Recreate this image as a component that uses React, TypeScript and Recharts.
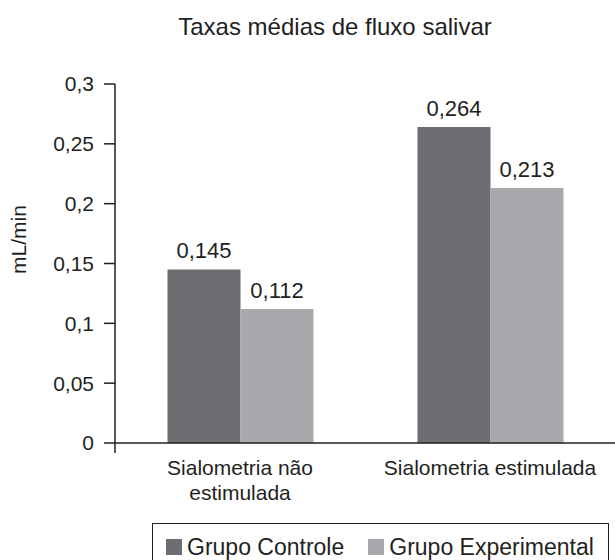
import React from 'react';
import { BarChart, Bar, XAxis, YAxis, LabelList, Legend } from 'recharts';

const categories = ['Sialometria não estimulada', 'Sialometria estimulada'];
const controle = [0.145, 0.264];
const experimental = [0.112, 0.213];
const yTicks = [0, 0.05, 0.1, 0.15, 0.2, 0.25, 0.3];
const boundaryTicks = [0, 1, 2];
const seriesNames = ['Grupo Controle', 'Grupo Experimental'];

const data = categories.map((c, i) => ({ name: c, controle: controle[i], experimental: experimental[i] }));

const FONT = '"Liberation Sans", Arial, Helvetica, sans-serif';
const INK = '#231f20';
const DARK = '#6d6e71';
const LIGHT = '#a7a9ac';
const MAX_CHARS = 23;

const fmt = (v: any) => String(v).replace('.', ',');

const wrap = (s: string) => {
  const words = s.split(' ');
  const lines: string[] = [];
  let cur = '';
  words.forEach((w) => {
    const next = cur ? cur + ' ' + w : w;
    if (next.length > MAX_CHARS && cur) {
      lines.push(cur);
      cur = w;
    } else {
      cur = next;
    }
  });
  if (cur) lines.push(cur);
  return lines;
};

const EmptyTick = () => <g />;

const XTick = (props: any) => {
  const { x, y, payload } = props;
  const lines = wrap(String(payload.value));
  return (
    <text x={x} y={y} textAnchor="middle" fill={INK} fontSize={21} fontFamily={FONT}>
      {lines.map((l, i) => (
        <tspan key={i} x={x} dy={i === 0 ? 31 : 25}>
          {l}
        </tspan>
      ))}
    </text>
  );
};

const YLabel = (props: any) => {
  const vb = props.viewBox || { x: 0, y: 0, width: 0, height: 0 };
  const cx = vb.x + 18;
  const cy = vb.y + vb.height / 2 - 24;
  return (
    <text
      x={cx}
      y={cy}
      transform={`rotate(-90 ${cx} ${cy})`}
      textAnchor="middle"
      dominantBaseline="central"
      fill={INK}
      fontSize={21}
      fontFamily={FONT}
    >
      mL/min
    </text>
  );
};

const LegendContent = (props: any) => {
  const payload = props.payload || [];
  return (
    <div
      style={{
        border: `1.5px solid ${INK}`,
        boxSizing: 'border-box',
        width: 457,
        height: 50,
        display: 'flex',
        flexWrap: 'nowrap',
        alignItems: 'flex-start',
        paddingTop: 10,
        paddingLeft: 13,
        fontFamily: FONT,
        fontSize: 23,
        color: INK,
        lineHeight: '26px',
        whiteSpace: 'nowrap',
      }}
    >
      {payload.map((p: any, i: number) => (
        <span key={i} style={{ display: 'flex', alignItems: 'center', marginRight: 24, flexShrink: 0, whiteSpace: 'nowrap' }}>
          <span style={{ display: 'inline-block', width: 16, height: 16, background: p.color, marginRight: 5, flexShrink: 0 }} />
          {p.value}
        </span>
      ))}
    </div>
  );
};

export default function App() {
  return (
    <div style={{ position: 'absolute', left: 0, top: 0, width: 615, height: 560, fontFamily: FONT, background: '#fff' }}>
      <div
        style={{
          position: 'absolute',
          left: 0,
          top: 15,
          width: 670,
          textAlign: 'center',
          fontSize: 24,
          lineHeight: '24px',
          color: INK,
          fontFamily: FONT,
        }}
      >
        Taxas médias de fluxo salivar
      </div>
      <BarChart
        width={615}
        height={560}
        data={data}
        margin={{ top: 84, right: 0, left: 0, bottom: 46 }}
        barCategoryGap="21%"
        barGap={0}
      >
        <XAxis
          xAxisId={0}
          type="number"
          domain={[0, 2]}
          ticks={boundaryTicks}
          allowDataOverflow
          tick={EmptyTick}
          tickSize={10}
          height={1}
          axisLine={{ stroke: INK, strokeWidth: 1.5 }}
          tickLine={{ stroke: INK, strokeWidth: 1.5 }}
        />
        <XAxis
          xAxisId="labels"
          dataKey="name"
          height={70}
          axisLine={false}
          tickLine={false}
          tickSize={0}
          tickMargin={0}
          tick={<XTick />}
          interval={0}
        />
        <YAxis
          width={115}
          domain={[0, 0.3]}
          ticks={yTicks}
          tickFormatter={fmt}
          tickSize={11}
          tickMargin={10}
          axisLine={{ stroke: INK, strokeWidth: 1.5 }}
          tickLine={{ stroke: INK, strokeWidth: 1.5 }}
          tick={{ fill: INK, fontSize: 21, fontFamily: FONT }}
          label={<YLabel />}
        />
        <Legend
          verticalAlign="middle"
          align="center"
          layout="horizontal"
          wrapperStyle={{ top: 523, left: 152, width: 457, height: 50 }}
          content={<LegendContent />}
        />
        <Bar xAxisId="labels" dataKey="controle" name={seriesNames[0]} fill={DARK} isAnimationActive={false}>
          <LabelList dataKey="controle" position="top" offset={11} formatter={fmt} fill={INK} fontSize={22} fontFamily={FONT} />
        </Bar>
        <Bar xAxisId="labels" dataKey="experimental" name={seriesNames[1]} fill={LIGHT} isAnimationActive={false}>
          <LabelList dataKey="experimental" position="top" offset={11} formatter={fmt} fill={INK} fontSize={22} fontFamily={FONT} />
        </Bar>
      </BarChart>
    </div>
  );
}
